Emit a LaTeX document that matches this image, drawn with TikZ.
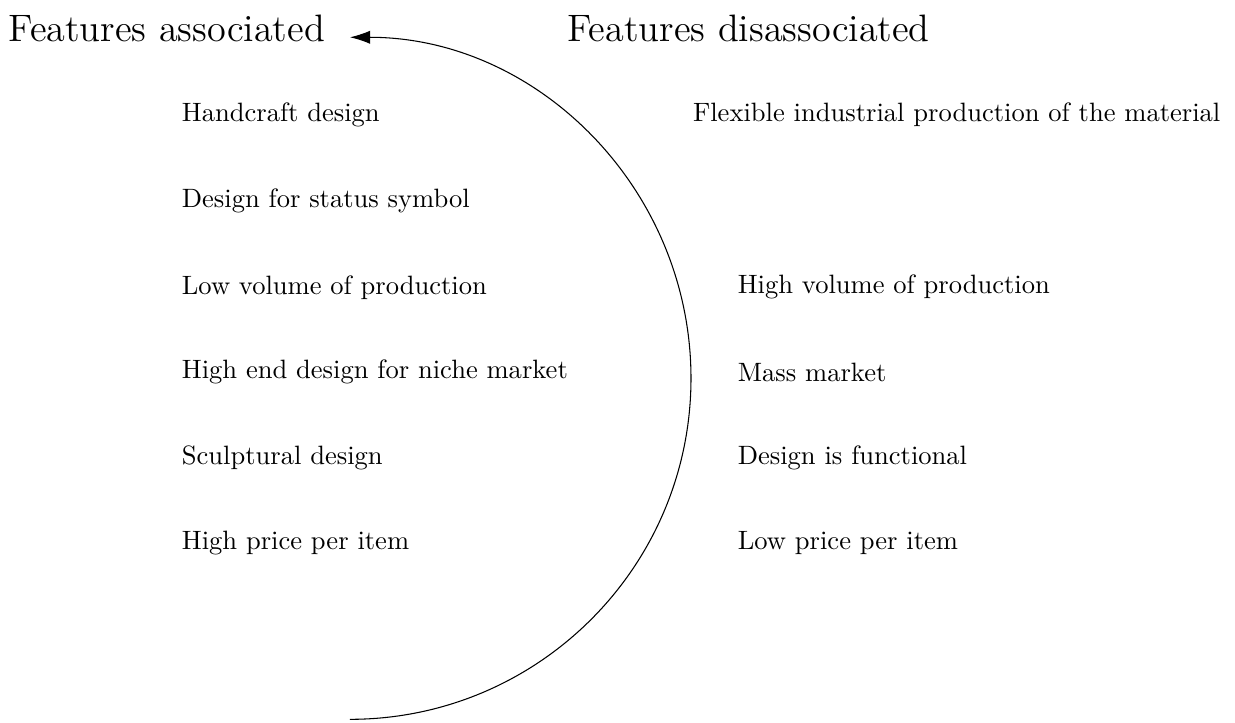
\documentclass[tikz,border=0pt]{standalone}
\usepackage{amsmath,amssymb}
\usepackage{xcolor}
\usepackage{tikz}
\usetikzlibrary {arrows.meta,positioning,calc}

\begin{document}
\begin{tikzpicture}[scale=0.988]
    \useasboundingbox (0,0) rectangle (16.55cm,-9.68cm);
    \tikzset{feature/.style={anchor=west,inner sep=0pt,minimum size=0pt}}

    \node[feature] (assoc) at (0.11cm, -0.38cm) {\Large Features associated};
    \node[feature] (disassoc) at (7.6cm, -0.38cm) {\Large Features disassociated};

    % associated column
    \node[feature] (handcraft) at (2.43cm, -1.54cm) {Handcraft design};
    \node[feature] (status) at (2.43cm, -2.69cm) {Design for status symbol};
    \node[feature] (lowvol) at (2.43cm, -3.85cm) {Low volume of production};
    \node[feature] (niche) at (2.43cm, -4.99cm) {High end design for niche market};
    \node[feature] (sculpt) at (2.43cm, -6.14cm) {Sculptural design};
    \node[feature] (highprice) at (2.43cm, -7.28cm) {High price per item};

    % disassociated column
    \node[feature] (flexible) at (9.28cm, -1.54cm) {Flexible industrial production of the material};
    \node[feature] (highvol) at (9.88cm, -3.85cm) {High volume of production};
    \node[feature] (mass) at (9.88cm, -4.99cm) {Mass market};
    \node[feature] (functional) at (9.88cm, -6.14cm) {Design is functional};
    \node[feature] (lowprice) at (9.88cm, -7.28cm) {Low price per item};

    \coordinate (arcstart) at (4.69cm, -9.64cm);
    \draw[-{Latex[length=7.6pt,width=5pt]}] (arcstart) arc (-90:90:4.57cm);
\end{tikzpicture}
\end{document}
